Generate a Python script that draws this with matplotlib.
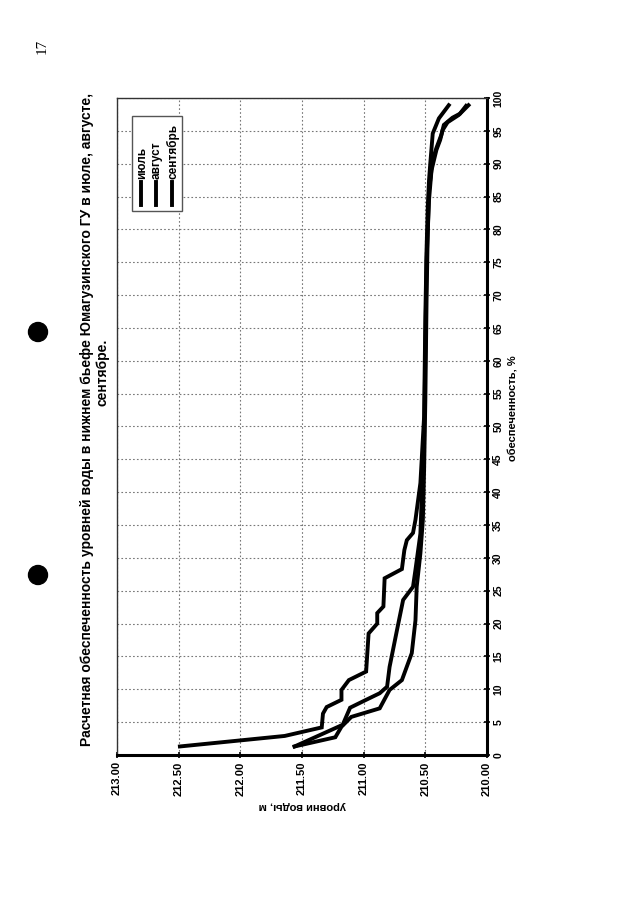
import matplotlib
matplotlib.use('Agg')
import matplotlib.pyplot as plt
from matplotlib.patches import Ellipse, Rectangle
from matplotlib.lines import Line2D

plt.rcParams['font.family'] = ['Liberation Sans', 'DejaVu Sans']

# data: water level (m) vs probability (%)
july_level = [212.49, 211.64, 211.34, 211.33, 211.30, 211.18, 211.18, 211.12, 210.98, 210.96,
              210.89, 210.89, 210.84, 210.83, 210.69, 210.67, 210.65, 210.60, 210.58, 210.54,
              210.51, 210.50, 210.49, 210.48, 210.47, 210.46, 210.44, 210.39, 210.31]
july_pct = [1.3, 2.9, 4.2, 6.3, 7.3, 8.4, 9.9, 11.4, 12.7, 18.5,
            20.0, 21.6, 22.6, 26.9, 28.3, 31.2, 32.7, 33.8, 35.8, 41.4,
            51.5, 66.7, 76.9, 83.5, 87.5, 90.0, 94.6, 96.9, 98.9]

aug_level = [211.56, 211.23, 211.18, 211.10, 210.87, 210.79, 210.69, 210.61, 210.58, 210.57,
             210.54, 210.52, 210.51, 210.50, 210.49, 210.48, 210.47, 210.44, 210.41, 210.37,
             210.35, 210.28, 210.22, 210.17]
aug_pct = [1.3, 2.7, 4.3, 5.8, 7.1, 9.9, 11.4, 15.5, 20.5, 25.6,
           30.7, 35.8, 43.4, 54.0, 69.3, 80.0, 86.0, 90.6, 92.4, 94.4,
           95.9, 97.0, 97.6, 98.8]

sep_level = [211.56, 211.17, 211.11, 210.98, 210.87, 210.81, 210.79, 210.73, 210.68, 210.60,
             210.58, 210.54, 210.53, 210.51, 210.50, 210.49, 210.47, 210.45, 210.41, 210.38,
             210.36, 210.32, 210.23, 210.15]
sep_pct = [1.3, 4.6, 7.2, 8.4, 9.4, 10.4, 13.4, 19.0, 23.6, 25.6,
           28.2, 33.7, 38.8, 47.9, 61.6, 75.3, 84.5, 89.0, 92.1, 93.6,
           95.1, 96.3, 97.4, 98.9]

level_ticks = [213.0, 212.5, 212.0, 211.5, 211.0, 210.5, 210.0]
pct_ticks = list(range(0, 101, 5))
names = ['июль', 'август', 'сентябрь']

W, H = 640, 905
fig = plt.figure(figsize=(6.4, 9.05), dpi=100)
ax = fig.add_axes([117 / W, 1 - 755 / H, 370 / W, 657 / H])

for lv, pc in [(july_level, july_pct), (aug_level, aug_pct), (sep_level, sep_pct)]:
    ax.plot(lv, pc, color='black', lw=2.8, solid_joinstyle='miter')

ax.set_xlim(213, 210)
ax.set_ylim(0, 100)
ax.set_xticks(level_ticks)
ax.set_xticklabels(['%.2f' % v for v in level_ticks], rotation=90, fontsize=8, fontweight='bold')
ax.set_yticks(pct_ticks)
ax.set_yticklabels([str(v) for v in pct_ticks], rotation=90, fontsize=7.5, fontweight='bold', va='center')
ax.yaxis.tick_right()
ax.tick_params(axis='both', direction='inout', length=5, width=1.2, pad=2)
ax.grid(True, color='#777777', linestyle=(0, (1.5, 2)), linewidth=0.8)

for s in ['right', 'bottom']:
    ax.spines[s].set_linewidth(2.2)
for s in ['top', 'left']:
    ax.spines[s].set_linewidth(1.0)
    ax.spines[s].set_color('#333333')

# rotated texts
fig.text(87 / W, 1 - 420 / H,
         'Расчетная обеспеченность уровней воды в нижнем бьефе Юмагузинского ГУ в июле, августе,',
         rotation=90, ha='center', va='center', fontsize=10, fontweight='bold')
fig.text(103 / W, 1 - 372 / H, 'сентябре.', rotation=90, ha='center', va='center',
         fontsize=10, fontweight='bold')
fig.text(302 / W, 1 - 806 / H, 'уровни воды, м', rotation=180, ha='center', va='center',
         fontsize=8, fontweight='bold')
fig.text(513 / W, 1 - 408 / H, 'обеспеченность, %', rotation=90, ha='center', va='center',
         fontsize=8, fontweight='bold')
fig.text(42 / W, 1 - 46 / H, '17', rotation=90, ha='center', va='center',
         fontsize=11, family='Liberation Serif')

# legend drawn rotated
fig.add_artist(Rectangle((132 / W, 1 - 211 / H), 50 / W, 95 / H, transform=fig.transFigure,
                         facecolor='white', edgecolor='#555555', lw=1.0, zorder=5))
for nm, xp in zip(names, [141, 156, 172]):
    fig.add_artist(Line2D([xp / W, xp / W], [1 - 205 / H, 1 - 182 / H], transform=fig.transFigure,
                          color='black', lw=2.8, zorder=6))
    fig.text((xp + 1) / W, 1 - 179 / H, nm, rotation=90, ha='center', va='bottom',
             fontsize=8.5, fontweight='bold', zorder=6)

# punch holes
for yp in [332, 575]:
    fig.add_artist(Ellipse((38 / W, 1 - yp / H), 19 / W, 19 / H, transform=fig.transFigure,
                           color='black'))

fig.savefig('out.png', dpi=100)
